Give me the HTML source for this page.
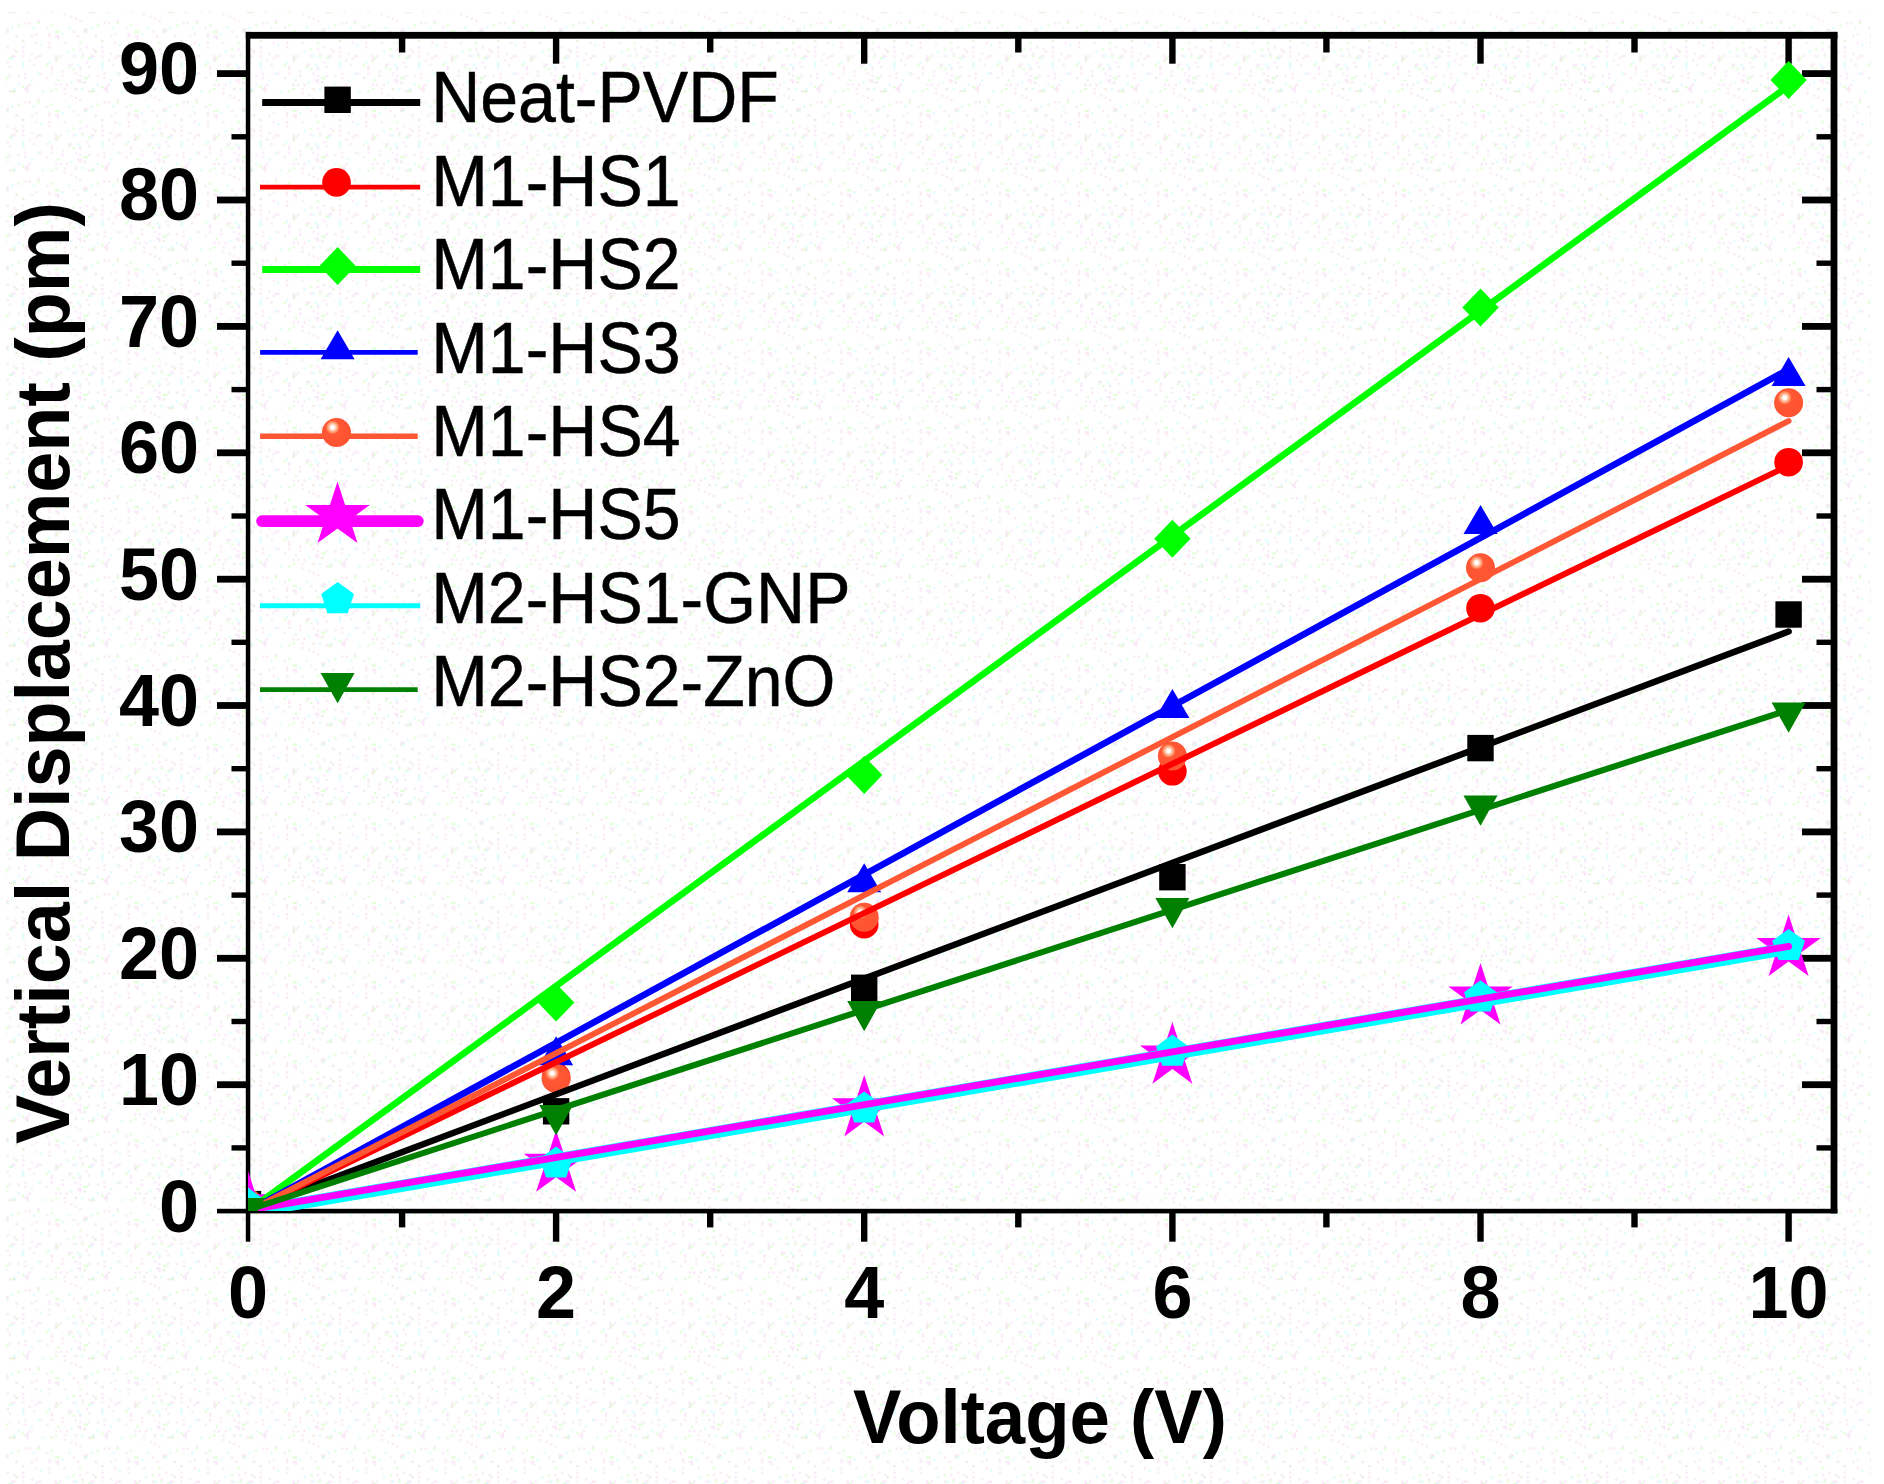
<!DOCTYPE html>
<html lang="en"><head><meta charset="utf-8"><title>Vertical Displacement vs Voltage</title>
<style>html,body{margin:0;padding:0;background:#fff;}body{width:1884px;height:1484px;overflow:hidden;}svg{display:block;}text{font-family:"Liberation Sans",Arial,Helvetica,sans-serif;fill:#000;}.b{font-weight:bold;}</style>
</head><body>
<svg width="1884" height="1484" viewBox="0 0 1884 1484">
<defs>
<radialGradient id="sph" cx="0.368" cy="0.323" r="0.5" fx="0.368" fy="0.323"><stop offset="0" stop-color="#ffffff"/><stop offset="0.12" stop-color="#ffffff"/><stop offset="0.2" stop-color="#ffd2bc"/><stop offset="0.33" stop-color="#ffa376"/><stop offset="0.48" stop-color="#ff5733"/><stop offset="1" stop-color="#ff5432"/></radialGradient>
<clipPath id="plot"><rect x="248.0" y="35.3" width="1586.0" height="1175.8"/></clipPath>
<pattern id="dith" width="79.2" height="79.2" patternUnits="userSpaceOnUse"><rect width="79.2" height="79.2" fill="#ffffff"/><rect x="55.0" y="57.2" width="2.2" height="2.2" fill="#f9e8f7"/><rect x="68.2" y="66.0" width="2.2" height="2.2" fill="#deffd3"/><rect x="57.2" y="37.4" width="2.2" height="2.2" fill="#f9e8f7"/><rect x="55.0" y="55.0" width="2.2" height="2.2" fill="#f9e8f7"/><rect x="61.6" y="70.4" width="2.2" height="2.2" fill="#f9e8f7"/><rect x="72.6" y="30.8" width="2.2" height="2.2" fill="#f9e8f7"/><rect x="22.0" y="61.6" width="2.2" height="2.2" fill="#dcfcfd"/><rect x="22.0" y="39.6" width="2.2" height="2.2" fill="#eaeadd"/><rect x="63.8" y="8.8" width="2.2" height="2.2" fill="#f9e8f7"/><rect x="59.4" y="4.4" width="2.2" height="2.2" fill="#f9e8f7"/><rect x="77.0" y="63.8" width="2.2" height="2.2" fill="#dcfcfd"/><rect x="74.8" y="72.6" width="2.2" height="2.2" fill="#f9e8f7"/><rect x="22.0" y="46.2" width="2.2" height="2.2" fill="#f9e8f7"/><rect x="11.0" y="26.4" width="2.2" height="2.2" fill="#dcfcfd"/><rect x="55.0" y="30.8" width="2.2" height="2.2" fill="#deffd3"/><rect x="37.4" y="19.8" width="2.2" height="2.2" fill="#f9e8f7"/><rect x="17.6" y="4.4" width="2.2" height="2.2" fill="#dcfcfd"/><rect x="11.0" y="11.0" width="2.2" height="2.2" fill="#deffd3"/><rect x="66.0" y="50.6" width="2.2" height="2.2" fill="#dcfcfd"/><rect x="4.4" y="28.6" width="2.2" height="2.2" fill="#f9e8f7"/><rect x="72.6" y="68.2" width="2.2" height="2.2" fill="#deffd3"/><rect x="48.4" y="41.8" width="2.2" height="2.2" fill="#f9e8f7"/><rect x="55.0" y="59.4" width="2.2" height="2.2" fill="#eaeadd"/><rect x="77.0" y="0.0" width="2.2" height="2.2" fill="#f9e8f7"/><rect x="17.6" y="74.8" width="2.2" height="2.2" fill="#f9e8f7"/><rect x="77.0" y="35.2" width="2.2" height="2.2" fill="#f9e8f7"/><rect x="0.0" y="66.0" width="2.2" height="2.2" fill="#dcfcfd"/><rect x="66.0" y="4.4" width="2.2" height="2.2" fill="#f9e8f7"/><rect x="6.6" y="46.2" width="2.2" height="2.2" fill="#f9e8f7"/><rect x="6.6" y="28.6" width="2.2" height="2.2" fill="#f9e8f7"/><rect x="4.4" y="2.2" width="2.2" height="2.2" fill="#eaeadd"/><rect x="22.0" y="63.8" width="2.2" height="2.2" fill="#dcfcfd"/><rect x="28.6" y="59.4" width="2.2" height="2.2" fill="#f9e8f7"/><rect x="74.8" y="8.8" width="2.2" height="2.2" fill="#eaeadd"/><rect x="2.2" y="55.0" width="2.2" height="2.2" fill="#deffd3"/><rect x="57.2" y="30.8" width="2.2" height="2.2" fill="#deffd3"/><rect x="39.6" y="44.0" width="2.2" height="2.2" fill="#dcfcfd"/><rect x="55.0" y="4.4" width="2.2" height="2.2" fill="#f9e8f7"/><rect x="72.6" y="48.4" width="2.2" height="2.2" fill="#deffd3"/><rect x="24.2" y="8.8" width="2.2" height="2.2" fill="#f9e8f7"/><rect x="63.8" y="41.8" width="2.2" height="2.2" fill="#f9e8f7"/><rect x="28.6" y="22.0" width="2.2" height="2.2" fill="#f9e8f7"/><rect x="35.2" y="57.2" width="2.2" height="2.2" fill="#f9e8f7"/><rect x="61.6" y="33.0" width="2.2" height="2.2" fill="#dcfcfd"/><rect x="0.0" y="19.8" width="2.2" height="2.2" fill="#f9e8f7"/><rect x="8.8" y="66.0" width="2.2" height="2.2" fill="#f9e8f7"/><rect x="57.2" y="0.0" width="2.2" height="2.2" fill="#deffd3"/><rect x="33.0" y="63.8" width="2.2" height="2.2" fill="#f9e8f7"/><rect x="50.6" y="11.0" width="2.2" height="2.2" fill="#deffd3"/><rect x="68.2" y="26.4" width="2.2" height="2.2" fill="#dcfcfd"/><rect x="8.8" y="57.2" width="2.2" height="2.2" fill="#deffd3"/><rect x="30.8" y="35.2" width="2.2" height="2.2" fill="#f9e8f7"/><rect x="37.4" y="72.6" width="2.2" height="2.2" fill="#dcfcfd"/><rect x="28.6" y="4.4" width="2.2" height="2.2" fill="#f9e8f7"/><rect x="63.8" y="13.2" width="2.2" height="2.2" fill="#f9e8f7"/><rect x="35.2" y="33.0" width="2.2" height="2.2" fill="#f9e8f7"/><rect x="2.2" y="52.8" width="2.2" height="2.2" fill="#f9e8f7"/><rect x="6.6" y="77.0" width="2.2" height="2.2" fill="#deffd3"/><rect x="70.4" y="2.2" width="2.2" height="2.2" fill="#dcfcfd"/><rect x="13.2" y="11.0" width="2.2" height="2.2" fill="#eaeadd"/><rect x="48.4" y="61.6" width="2.2" height="2.2" fill="#dcfcfd"/><rect x="13.2" y="8.8" width="2.2" height="2.2" fill="#dcfcfd"/><rect x="35.2" y="41.8" width="2.2" height="2.2" fill="#f9e8f7"/><rect x="46.2" y="77.0" width="2.2" height="2.2" fill="#f9e8f7"/><rect x="6.6" y="61.6" width="2.2" height="2.2" fill="#f9e8f7"/><rect x="0.0" y="74.8" width="2.2" height="2.2" fill="#f9e8f7"/><rect x="0.0" y="2.2" width="2.2" height="2.2" fill="#f9e8f7"/><rect x="26.4" y="11.0" width="2.2" height="2.2" fill="#f9e8f7"/><rect x="24.2" y="72.6" width="2.2" height="2.2" fill="#f9e8f7"/><rect x="4.4" y="77.0" width="2.2" height="2.2" fill="#deffd3"/><rect x="57.2" y="57.2" width="2.2" height="2.2" fill="#deffd3"/><rect x="46.2" y="26.4" width="2.2" height="2.2" fill="#f9e8f7"/><rect x="48.4" y="46.2" width="2.2" height="2.2" fill="#f9e8f7"/><rect x="50.6" y="68.2" width="2.2" height="2.2" fill="#f9e8f7"/><rect x="8.8" y="11.0" width="2.2" height="2.2" fill="#f9e8f7"/><rect x="70.4" y="15.4" width="2.2" height="2.2" fill="#f9e8f7"/><rect x="24.2" y="22.0" width="2.2" height="2.2" fill="#f9e8f7"/><rect x="33.0" y="26.4" width="2.2" height="2.2" fill="#dcfcfd"/><rect x="41.8" y="11.0" width="2.2" height="2.2" fill="#dcfcfd"/><rect x="8.8" y="74.8" width="2.2" height="2.2" fill="#f9e8f7"/><rect x="37.4" y="55.0" width="2.2" height="2.2" fill="#f9e8f7"/><rect x="39.6" y="72.6" width="2.2" height="2.2" fill="#f9e8f7"/><rect x="0.0" y="68.2" width="2.2" height="2.2" fill="#f9e8f7"/><rect x="50.6" y="24.2" width="2.2" height="2.2" fill="#deffd3"/><rect x="13.2" y="55.0" width="2.2" height="2.2" fill="#f9e8f7"/><rect x="15.4" y="50.6" width="2.2" height="2.2" fill="#eaeadd"/><rect x="30.8" y="0.0" width="2.2" height="2.2" fill="#dcfcfd"/><rect x="11.0" y="57.2" width="2.2" height="2.2" fill="#dcfcfd"/><rect x="0.0" y="48.4" width="2.2" height="2.2" fill="#f9e8f7"/><rect x="6.6" y="30.8" width="2.2" height="2.2" fill="#dcfcfd"/><rect x="57.2" y="35.2" width="2.2" height="2.2" fill="#f9e8f7"/><rect x="59.4" y="55.0" width="2.2" height="2.2" fill="#f9e8f7"/><rect x="22.0" y="6.6" width="2.2" height="2.2" fill="#deffd3"/><rect x="68.2" y="63.8" width="2.2" height="2.2" fill="#f9e8f7"/><rect x="22.0" y="55.0" width="2.2" height="2.2" fill="#f9e8f7"/><rect x="55.0" y="35.2" width="2.2" height="2.2" fill="#f9e8f7"/><rect x="61.6" y="74.8" width="2.2" height="2.2" fill="#f9e8f7"/><rect x="22.0" y="66.0" width="2.2" height="2.2" fill="#dcfcfd"/><rect x="15.4" y="35.2" width="2.2" height="2.2" fill="#eaeadd"/><rect x="50.6" y="66.0" width="2.2" height="2.2" fill="#f9e8f7"/><rect x="46.2" y="63.8" width="2.2" height="2.2" fill="#deffd3"/><rect x="13.2" y="48.4" width="2.2" height="2.2" fill="#f9e8f7"/><rect x="48.4" y="35.2" width="2.2" height="2.2" fill="#f9e8f7"/><rect x="50.6" y="72.6" width="2.2" height="2.2" fill="#f9e8f7"/><rect x="26.4" y="6.6" width="2.2" height="2.2" fill="#f9e8f7"/><rect x="0.0" y="0.0" width="2.2" height="2.2" fill="#f9e8f7"/><rect x="72.6" y="55.0" width="2.2" height="2.2" fill="#f9e8f7"/><rect x="37.4" y="22.0" width="2.2" height="2.2" fill="#deffd3"/><rect x="2.2" y="8.8" width="2.2" height="2.2" fill="#dcfcfd"/><rect x="24.2" y="77.0" width="2.2" height="2.2" fill="#f9e8f7"/><rect x="22.0" y="50.6" width="2.2" height="2.2" fill="#f9e8f7"/><rect x="48.4" y="33.0" width="2.2" height="2.2" fill="#f9e8f7"/><rect x="74.8" y="17.6" width="2.2" height="2.2" fill="#f9e8f7"/><rect x="70.4" y="63.8" width="2.2" height="2.2" fill="#f9e8f7"/><rect x="11.0" y="55.0" width="2.2" height="2.2" fill="#f9e8f7"/><rect x="4.4" y="30.8" width="2.2" height="2.2" fill="#eaeadd"/><rect x="17.6" y="24.2" width="2.2" height="2.2" fill="#deffd3"/><rect x="26.4" y="8.8" width="2.2" height="2.2" fill="#f9e8f7"/><rect x="55.0" y="8.8" width="2.2" height="2.2" fill="#deffd3"/><rect x="30.8" y="52.8" width="2.2" height="2.2" fill="#f9e8f7"/><rect x="0.0" y="41.8" width="2.2" height="2.2" fill="#deffd3"/><rect x="74.8" y="55.0" width="2.2" height="2.2" fill="#dcfcfd"/><rect x="39.6" y="55.0" width="2.2" height="2.2" fill="#f9e8f7"/></pattern>
</defs>
<rect x="0" y="0" width="1884" height="1484" fill="#ffffff"/>
<rect x="6" y="12" width="1865" height="1472" fill="url(#dith)"/>
<rect x="245.8" y="31.9" width="1591.6000000000001" height="6.8" fill="#000"/>
<rect x="245.8" y="1208.8" width="1591.6000000000001" height="4.6" fill="#000"/>
<rect x="245.8" y="31.9" width="4.5" height="1209.8" fill="#000"/>
<rect x="1830.6" y="31.9" width="6.8" height="1181.4999999999998" fill="#000"/>
<rect x="217" y="1208.8" width="31.0" height="4.6" fill="#000"/>
<rect x="231.5" y="1145.2" width="16.5" height="5.4" fill="#000"/>
<rect x="1816.5" y="1145.2" width="17.5" height="5.4" fill="#000"/>
<rect x="217" y="1081.3" width="31.0" height="6.8" fill="#000"/>
<rect x="1802" y="1081.3" width="32.0" height="6.8" fill="#000"/>
<rect x="231.5" y="1018.8" width="16.5" height="5.4" fill="#000"/>
<rect x="1816.5" y="1018.8" width="17.5" height="5.4" fill="#000"/>
<rect x="217" y="954.9" width="31.0" height="6.8" fill="#000"/>
<rect x="1802" y="954.9" width="32.0" height="6.8" fill="#000"/>
<rect x="231.5" y="892.4" width="16.5" height="5.4" fill="#000"/>
<rect x="1816.5" y="892.4" width="17.5" height="5.4" fill="#000"/>
<rect x="217" y="828.5" width="31.0" height="6.8" fill="#000"/>
<rect x="1802" y="828.5" width="32.0" height="6.8" fill="#000"/>
<rect x="231.5" y="766.0" width="16.5" height="5.4" fill="#000"/>
<rect x="1816.5" y="766.0" width="17.5" height="5.4" fill="#000"/>
<rect x="217" y="702.1" width="31.0" height="6.8" fill="#000"/>
<rect x="1802" y="702.1" width="32.0" height="6.8" fill="#000"/>
<rect x="231.5" y="639.6" width="16.5" height="5.4" fill="#000"/>
<rect x="1816.5" y="639.6" width="17.5" height="5.4" fill="#000"/>
<rect x="217" y="575.8" width="31.0" height="6.8" fill="#000"/>
<rect x="1802" y="575.8" width="32.0" height="6.8" fill="#000"/>
<rect x="231.5" y="513.3" width="16.5" height="5.4" fill="#000"/>
<rect x="1816.5" y="513.3" width="17.5" height="5.4" fill="#000"/>
<rect x="217" y="449.4" width="31.0" height="6.8" fill="#000"/>
<rect x="1802" y="449.4" width="32.0" height="6.8" fill="#000"/>
<rect x="231.5" y="386.9" width="16.5" height="5.4" fill="#000"/>
<rect x="1816.5" y="386.9" width="17.5" height="5.4" fill="#000"/>
<rect x="217" y="323.0" width="31.0" height="6.8" fill="#000"/>
<rect x="1802" y="323.0" width="32.0" height="6.8" fill="#000"/>
<rect x="231.5" y="260.5" width="16.5" height="5.4" fill="#000"/>
<rect x="1816.5" y="260.5" width="17.5" height="5.4" fill="#000"/>
<rect x="217" y="196.6" width="31.0" height="6.8" fill="#000"/>
<rect x="1802" y="196.6" width="32.0" height="6.8" fill="#000"/>
<rect x="231.5" y="134.1" width="16.5" height="5.4" fill="#000"/>
<rect x="1816.5" y="134.1" width="17.5" height="5.4" fill="#000"/>
<rect x="217" y="70.2" width="31.0" height="6.8" fill="#000"/>
<rect x="1802" y="70.2" width="32.0" height="6.8" fill="#000"/>
<rect x="398.9" y="1211.1" width="6.4" height="16.3" fill="#000"/>
<rect x="398.9" y="35.3" width="6.4" height="17.2" fill="#000"/>
<rect x="552.9" y="1211.1" width="6.4" height="30.6" fill="#000"/>
<rect x="552.9" y="35.3" width="6.4" height="28.4" fill="#000"/>
<rect x="707.0" y="1211.1" width="6.4" height="16.3" fill="#000"/>
<rect x="707.0" y="35.3" width="6.4" height="17.2" fill="#000"/>
<rect x="861.0" y="1211.1" width="6.4" height="30.6" fill="#000"/>
<rect x="861.0" y="35.3" width="6.4" height="28.4" fill="#000"/>
<rect x="1015.1" y="1211.1" width="6.4" height="16.3" fill="#000"/>
<rect x="1015.1" y="35.3" width="6.4" height="17.2" fill="#000"/>
<rect x="1169.2" y="1211.1" width="6.4" height="30.6" fill="#000"/>
<rect x="1169.2" y="35.3" width="6.4" height="28.4" fill="#000"/>
<rect x="1323.2" y="1211.1" width="6.4" height="16.3" fill="#000"/>
<rect x="1323.2" y="35.3" width="6.4" height="17.2" fill="#000"/>
<rect x="1477.3" y="1211.1" width="6.4" height="30.6" fill="#000"/>
<rect x="1477.3" y="35.3" width="6.4" height="28.4" fill="#000"/>
<rect x="1631.3" y="1211.1" width="6.4" height="16.3" fill="#000"/>
<rect x="1631.3" y="35.3" width="6.4" height="17.2" fill="#000"/>
<rect x="1785.4" y="1211.1" width="6.4" height="30.6" fill="#000"/>
<rect x="1785.4" y="35.3" width="6.4" height="28.4" fill="#000"/>
<g clip-path="url(#plot)">
<rect x="234.8" y="1190.9" width="26.4" height="26.4" fill="#000"/>
<rect x="542.9" y="1098.1" width="26.4" height="26.4" fill="#000"/>
<rect x="851.0" y="974.6" width="26.4" height="26.4" fill="#000"/>
<rect x="1159.2" y="864.0" width="26.4" height="26.4" fill="#000"/>
<rect x="1467.3" y="734.9" width="26.4" height="26.4" fill="#000"/>
<rect x="1775.4" y="601.3" width="26.4" height="26.4" fill="#000"/>
<circle cx="248.0" cy="1207.3" r="14.3" fill="#ff0000"/>
<circle cx="556.1" cy="1077.1" r="14.3" fill="#ff0000"/>
<circle cx="864.2" cy="924.2" r="14.3" fill="#ff0000"/>
<circle cx="1172.4" cy="771.3" r="14.3" fill="#ff0000"/>
<circle cx="1480.5" cy="608.2" r="14.3" fill="#ff0000"/>
<circle cx="1788.6" cy="462.2" r="14.3" fill="#ff0000"/>
<polygon points="248.0,1188.3 266.2,1207.3 248.0,1226.3 229.8,1207.3" fill="#00ff00"/>
<polygon points="556.1,983.6 574.3,1002.6 556.1,1021.6 537.9,1002.6" fill="#00ff00"/>
<polygon points="864.2,756.1 882.4,775.1 864.2,794.1 846.0,775.1" fill="#00ff00"/>
<polygon points="1172.4,519.7 1190.6,538.7 1172.4,557.7 1154.2,538.7" fill="#00ff00"/>
<polygon points="1480.5,288.4 1498.7,307.4 1480.5,326.4 1462.3,307.4" fill="#00ff00"/>
<polygon points="1788.6,60.9 1806.8,79.9 1788.6,98.9 1770.4,79.9" fill="#00ff00"/>
<polygon points="248.0,1188.0 265.0,1217.0 231.0,1217.0" fill="#0000ff"/>
<polygon points="556.1,1036.3 573.1,1065.3 539.1,1065.3" fill="#0000ff"/>
<polygon points="864.2,863.2 881.2,892.2 847.2,892.2" fill="#0000ff"/>
<polygon points="1172.4,689.0 1189.4,718.0 1155.4,718.0" fill="#0000ff"/>
<polygon points="1480.5,505.0 1497.5,534.0 1463.5,534.0" fill="#0000ff"/>
<polygon points="1788.6,357.0 1805.6,386.0 1771.6,386.0" fill="#0000ff"/>
<circle cx="248.0" cy="1203.5" r="14.5" fill="url(#sph)"/>
<circle cx="556.1" cy="1078.4" r="14.5" fill="url(#sph)"/>
<circle cx="864.2" cy="917.2" r="14.5" fill="url(#sph)"/>
<circle cx="1172.4" cy="756.1" r="14.5" fill="url(#sph)"/>
<circle cx="1480.5" cy="567.8" r="14.5" fill="url(#sph)"/>
<circle cx="1788.6" cy="402.8" r="14.5" fill="url(#sph)"/>
<polygon points="248.0,1170.8 255.6,1194.3 280.3,1194.3 260.4,1208.8 268.0,1232.3 248.0,1217.8 228.0,1232.3 235.6,1208.8 215.7,1194.3 240.4,1194.3" fill="#ff00ff"/>
<polygon points="556.1,1130.3 563.8,1153.8 588.5,1153.8 568.5,1168.3 576.1,1191.8 556.1,1177.3 536.1,1191.8 543.8,1168.3 523.8,1153.8 548.5,1153.8" fill="#ff00ff"/>
<polygon points="864.2,1074.9 871.9,1098.3 896.6,1098.3 876.6,1112.9 884.2,1136.4 864.2,1121.8 844.3,1136.4 851.9,1112.9 831.9,1098.3 856.6,1098.3" fill="#ff00ff"/>
<polygon points="1172.4,1022.1 1180.0,1045.6 1204.7,1045.6 1184.7,1060.2 1192.3,1083.7 1172.4,1069.1 1152.4,1083.7 1160.0,1060.2 1140.0,1045.6 1164.7,1045.6" fill="#ff00ff"/>
<polygon points="1480.5,963.0 1488.1,986.5 1512.8,986.5 1492.8,1001.0 1500.5,1024.5 1480.5,1010.0 1460.5,1024.5 1468.1,1001.0 1448.1,986.5 1472.8,986.5" fill="#ff00ff"/>
<polygon points="1788.6,914.5 1796.2,938.0 1820.9,938.0 1801.0,952.5 1808.6,976.0 1788.6,961.4 1768.6,976.0 1776.2,952.5 1756.3,938.0 1781.0,938.0" fill="#ff00ff"/>
<polygon points="248.0,1187.6 264.4,1199.5 258.1,1218.7 237.9,1218.7 231.6,1199.5" fill="#00ffff"/>
<polygon points="556.1,1146.5 572.5,1158.4 566.2,1177.6 546.0,1177.6 539.8,1158.4" fill="#00ffff"/>
<polygon points="864.2,1091.4 880.6,1103.3 874.3,1122.5 854.1,1122.5 847.9,1103.3" fill="#00ffff"/>
<polygon points="1172.4,1034.6 1188.7,1046.5 1182.5,1065.8 1162.3,1065.8 1156.0,1046.5" fill="#00ffff"/>
<polygon points="1480.5,980.3 1496.8,992.2 1490.6,1011.4 1470.4,1011.4 1464.1,992.2" fill="#00ffff"/>
<polygon points="1788.6,928.9 1805.0,940.7 1798.7,960.0 1778.5,960.0 1772.2,940.7" fill="#00ffff"/>
<polygon points="231.0,1197.9 265.0,1197.9 248.0,1228.2" fill="#008000"/>
<polygon points="539.1,1105.0 573.1,1105.0 556.1,1135.3" fill="#008000"/>
<polygon points="847.2,1001.0 881.2,1001.0 864.2,1031.3" fill="#008000"/>
<polygon points="1155.4,898.0 1189.4,898.0 1172.4,928.3" fill="#008000"/>
<polygon points="1463.5,795.4 1497.5,795.4 1480.5,825.7" fill="#008000"/>
<polygon points="1771.6,702.5 1805.6,702.5 1788.6,732.8" fill="#008000"/>
<line x1="248.0" y1="1210.0" x2="1788.6" y2="631.5" stroke="#000000" stroke-width="6.5" stroke-linecap="round"/>
<line x1="248.0" y1="1211.3" x2="1788.6" y2="465.6" stroke="#ff0000" stroke-width="6.0" stroke-linecap="round"/>
<line x1="248.0" y1="1211.0" x2="1788.6" y2="85.8" stroke="#00ff00" stroke-width="6.6" stroke-linecap="round"/>
<line x1="248.0" y1="1211.3" x2="1788.6" y2="369.4" stroke="#0000ff" stroke-width="6.6" stroke-linecap="round"/>
<line x1="248.0" y1="1211.3" x2="1788.6" y2="421.0" stroke="#ff5733" stroke-width="5.9" stroke-linecap="round"/>
<line x1="248.0" y1="1212.2" x2="1788.6" y2="948.5" stroke="#00ffff" stroke-width="12.2" stroke-linecap="round"/>
<line x1="248.0" y1="1210.2" x2="1788.6" y2="946.4" stroke="#ff00ff" stroke-width="6.9" stroke-linecap="round"/>
<line x1="248.0" y1="1209.9" x2="1788.6" y2="709.9" stroke="#008000" stroke-width="6.1" stroke-linecap="round"/>
<polygon points="231.0,1197.9 265.0,1197.9 248.0,1228.2" fill="#008000"/>
</g>
<text class="b" transform="translate(199.0,1231.5) scale(1,1.03)" font-size="72" text-anchor="end">0</text>
<text class="b" transform="translate(199.0,1105.1) scale(1,1.03)" font-size="72" text-anchor="end">10</text>
<text class="b" transform="translate(199.0,978.7) scale(1,1.03)" font-size="72" text-anchor="end">20</text>
<text class="b" transform="translate(199.0,852.3) scale(1,1.03)" font-size="72" text-anchor="end">30</text>
<text class="b" transform="translate(199.0,725.9) scale(1,1.03)" font-size="72" text-anchor="end">40</text>
<text class="b" transform="translate(199.0,599.5) scale(1,1.03)" font-size="72" text-anchor="end">50</text>
<text class="b" transform="translate(199.0,473.2) scale(1,1.03)" font-size="72" text-anchor="end">60</text>
<text class="b" transform="translate(199.0,346.8) scale(1,1.03)" font-size="72" text-anchor="end">70</text>
<text class="b" transform="translate(199.0,220.4) scale(1,1.03)" font-size="72" text-anchor="end">80</text>
<text class="b" transform="translate(199.0,94.0) scale(1,1.03)" font-size="72" text-anchor="end">90</text>
<text class="b" transform="translate(248.0,1318.2) scale(1,1.02)" font-size="72" text-anchor="middle">0</text>
<text class="b" transform="translate(556.1,1318.2) scale(1,1.02)" font-size="72" text-anchor="middle">2</text>
<text class="b" transform="translate(864.2,1318.2) scale(1,1.02)" font-size="72" text-anchor="middle">4</text>
<text class="b" transform="translate(1172.4,1318.2) scale(1,1.02)" font-size="72" text-anchor="middle">6</text>
<text class="b" transform="translate(1480.5,1318.2) scale(1,1.02)" font-size="72" text-anchor="middle">8</text>
<text class="b" transform="translate(1788.6,1318.2) scale(1,1.02)" font-size="72" text-anchor="middle">10</text>
<text class="b" transform="translate(1040.0,1443.0) scale(1,1.045)" font-size="72.6" text-anchor="middle">Voltage (V)</text>
<text class="b" transform="translate(69,673) rotate(-90) scale(1,1.04)" font-size="73.7" text-anchor="middle">Vertical Displacement (pm)</text>
<line x1="262.2" y1="102.5" x2="420.2" y2="102.5" stroke="#000000" stroke-width="6.8"/>
<rect x="324.4" y="86.6" width="26.4" height="26.4" fill="#000"/>
<text transform="translate(431.2,122.4) scale(1,1.065)" font-size="68" text-anchor="start" stroke="#000" stroke-width="0.5">Neat-PVDF</text>
<line x1="260" y1="187.1" x2="420.2" y2="187.1" stroke="#ff0000" stroke-width="4.8"/>
<circle cx="336.5" cy="182.4" r="14.3" fill="#ff0000"/>
<text transform="translate(431.2,205.8) scale(1,1.065)" font-size="68" text-anchor="start" stroke="#000" stroke-width="0.5">M1-HS1</text>
<line x1="262.2" y1="269.5" x2="420.2" y2="269.5" stroke="#00ff00" stroke-width="7.2"/>
<polygon points="337.6,247.0 355.8,266.0 337.6,285.0 319.4,266.0" fill="#00ff00"/>
<text transform="translate(431.2,289.2) scale(1,1.065)" font-size="68" text-anchor="start" stroke="#000" stroke-width="0.5">M1-HS2</text>
<line x1="260.1" y1="352.4" x2="417.7" y2="352.4" stroke="#0000ff" stroke-width="4.7"/>
<polygon points="337.6,330.3 354.6,359.3 320.6,359.3" fill="#0000ff"/>
<text transform="translate(431.2,372.6) scale(1,1.065)" font-size="68" text-anchor="start" stroke="#000" stroke-width="0.5">M1-HS3</text>
<line x1="260.1" y1="436.2" x2="417.7" y2="436.2" stroke="#ff5733" stroke-width="5.4"/>
<circle cx="336.5" cy="432.5" r="14.5" fill="url(#sph)"/>
<text transform="translate(431.2,456.0) scale(1,1.065)" font-size="68" text-anchor="start" stroke="#000" stroke-width="0.5">M1-HS4</text>
<line x1="262.0" y1="521.1" x2="417.9" y2="521.1" stroke="#ff00ff" stroke-width="11.6" stroke-linecap="round"/>
<polygon points="337.5,481.5 345.1,505.0 369.8,505.0 349.9,519.5 357.5,543.0 337.5,528.5 317.5,543.0 325.1,519.5 305.2,505.0 329.9,505.0" fill="#ff00ff"/>
<text transform="translate(431.2,539.4) scale(1,1.065)" font-size="68" text-anchor="start" stroke="#000" stroke-width="0.5">M1-HS5</text>
<line x1="260" y1="605.7" x2="420.2" y2="605.7" stroke="#00ffff" stroke-width="5.0"/>
<polygon points="337.6,582.1 354.0,594.0 347.7,613.2 327.5,613.2 321.2,594.0" fill="#00ffff"/>
<text transform="translate(431.2,622.8) scale(1,1.065)" font-size="68" text-anchor="start" stroke="#000" stroke-width="0.5">M2-HS1-GNP</text>
<line x1="260" y1="689.6" x2="417.7" y2="689.6" stroke="#008000" stroke-width="4.8"/>
<polygon points="320.6,673.0 354.6,673.0 337.6,703.3" fill="#008000"/>
<text transform="translate(431.2,706.2) scale(1,1.065)" font-size="68" text-anchor="start" stroke="#000" stroke-width="0.5">M2-HS2-ZnO</text>
</svg></body></html>
